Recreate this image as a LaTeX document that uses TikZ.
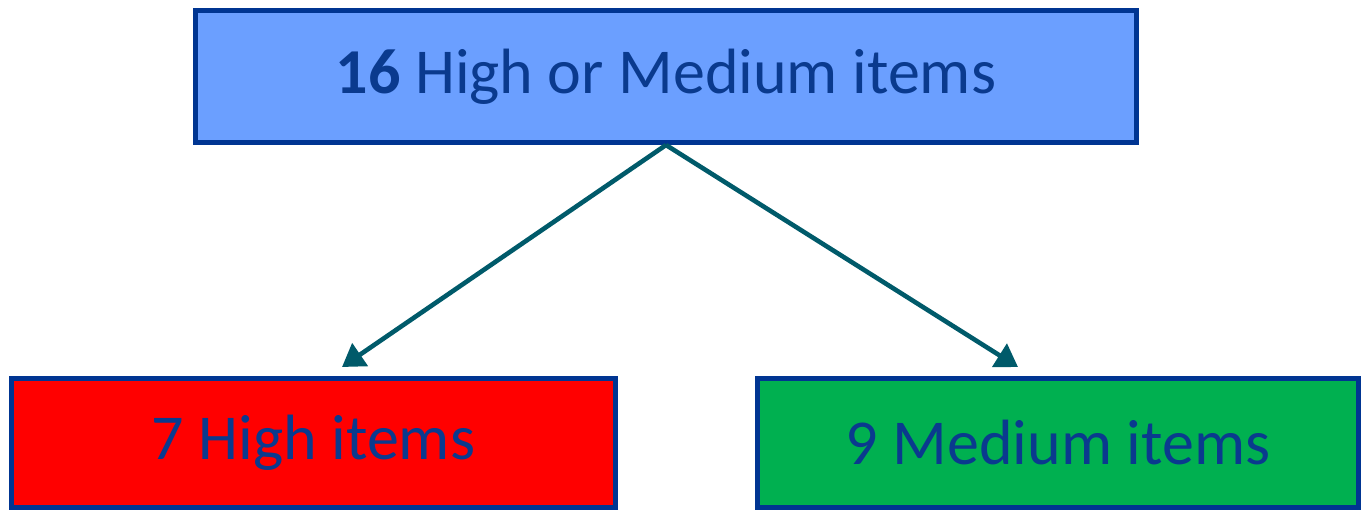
\documentclass[tikz,border=0pt]{standalone}
\usepackage{fontspec}
\setmainfont{Carlito}
\usetikzlibrary{arrows.meta}
\definecolor{itInk}{HTML}{0A3A8E}
\definecolor{itEdge}{HTML}{003592}
\definecolor{itBlue}{HTML}{6B9FFF}
\definecolor{itRed}{HTML}{FF0000}
\definecolor{itGreen}{HTML}{00B050}
\definecolor{itTeal}{HTML}{005A6A}
\tikzset{
 tally/.style={font=\fontsize{64}{70}\selectfont,text=itInk,line join=miter},
 box/.style={rectangle,draw=itEdge,line width=5pt,inner sep=0pt,anchor=center},
 split/.style={draw=itTeal,line width=4.6pt,-{Triangle[length=22pt,width=27pt]}}
}

\begin{document}
\begin{tikzpicture}[tally,x=1pt,y=-1pt]
 \useasboundingbox (0,0) rectangle (1362,511);
 % the total and its two parts
 \node[box,fill=itBlue,minimum width=941pt,minimum height=132pt] (all) at (666,76.5)
   {\textbf{16} High or Medium items};
 \node[box,fill=itRed,minimum width=604pt,minimum height=129pt] (high) at (313.5,443)
   {7 High items};
 \node[box,fill=itGreen,minimum width=601pt,minimum height=129pt] (med) at (1058,443)
   {9 Medium items};
 \coordinate (toHigh) at (342,367);
 \coordinate (toMed) at (1018,367);
 \draw[split] (all.south) -- (toHigh);
 \draw[split] (all.south) -- (toMed);
\end{tikzpicture}
\end{document}
